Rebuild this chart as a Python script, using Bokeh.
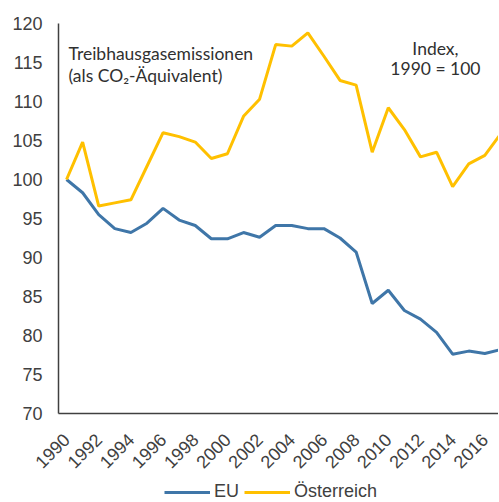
import math
from bokeh.plotting import figure
from bokeh.layouts import column
from bokeh.models import Range1d, FixedTicker, Label, Legend, LegendItem
from bokeh.embed import file_html
from bokeh.resources import INLINE

years = list(range(1990, 2018))
eu = [100, 98.3, 95.5, 93.7, 93.2, 94.4, 96.3, 94.8, 94.1, 92.4, 92.4, 93.2, 92.6, 94.1,
      94.1, 93.7, 93.7, 92.5, 90.7, 84.1, 85.8, 83.2, 82.1, 80.4, 77.6, 78.0, 77.7, 78.2]
at = [100, 104.8, 96.6, 97.0, 97.4, 101.7, 106.0, 105.5, 104.8, 102.7, 103.3, 108.1, 110.3, 117.3,
      117.1, 118.8, 115.8, 112.7, 112.1, 103.5, 109.2, 106.4, 102.9, 103.5, 99.1, 102.0, 103.1, 105.9]
x_ticks = list(range(1990, 2017, 2))
y_ticks = list(range(70, 121, 5))
series_names = ["EU", "Österreich"]
title_lines = ["Treibhausgasemissionen", "(als CO₂-Äquivalent)"]
index_lines = ["Index,", "1990 = 100"]

BLUE = "#3F76A8"
GOLD = "#FFC000"
TXT = "#404040"

p = figure(width=498, height=481, output_backend="svg", toolbar_location=None,
           x_range=Range1d(1989.5, 2016.85), y_range=Range1d(70, 120),
           min_border_left=58, min_border_right=0, min_border_top=23, min_border_bottom=68)
p.outline_line_color = None
p.xgrid.visible = False
p.ygrid.visible = False
p.background_fill_color = "white"
p.border_fill_color = "white"

r_eu = p.line(years, eu, line_color=BLUE, line_width=3)
r_at = p.line(years, at, line_color=GOLD, line_width=3)

for ax in (p.xaxis[0], p.yaxis[0]):
    ax.axis_line_color = "#404040"
    ax.axis_line_width = 1.5
    ax.major_tick_line_color = None
    ax.minor_tick_line_color = None
    ax.major_tick_out = 0
    ax.major_tick_in = 0
    ax.major_label_text_font = "Liberation Sans"
    ax.major_label_text_font_size = "18px"
    ax.major_label_text_color = TXT

p.yaxis[0].ticker = FixedTicker(ticks=y_ticks)
p.yaxis[0].major_label_standoff = 16
p.xaxis[0].ticker = FixedTicker(ticks=x_ticks)
p.xaxis[0].major_label_orientation = math.pi / 4
p.xaxis[0].major_label_standoff = 23

lab_kw = dict(text_font="Lato", text_font_size="17.5px", text_color="#303030",
              text_baseline="alphabetic")
p.add_layout(Label(x=1990.12, y=116.15, text=title_lines[0], text_align="left", **lab_kw))
p.add_layout(Label(x=1990.12, y=113.33, text=title_lines[1], text_align="left", **lab_kw))
p.add_layout(Label(x=2012.93, y=116.83, text=index_lines[0], text_align="center", **lab_kw))
p.add_layout(Label(x=2012.93, y=114.19, text=index_lines[1], text_align="center", **lab_kw))

# legend strip below the chart
lg = figure(width=498, height=20, output_backend="svg", toolbar_location=None,
            x_axis_type=None, y_axis_type=None,
            x_range=Range1d(0, 1), y_range=Range1d(0, 1),
            min_border_left=0, min_border_right=0, min_border_top=0, min_border_bottom=0)
lg.outline_line_color = None
lg.xgrid.visible = False
lg.ygrid.visible = False
l_eu = lg.line(years, eu, line_color=BLUE, line_width=3)
l_at = lg.line(years, at, line_color=GOLD, line_width=3)

legend = Legend(items=[LegendItem(label=series_names[0], renderers=[l_eu]),
                       LegendItem(label=series_names[1], renderers=[l_at])],
                orientation="horizontal", location=(106, -1),
                glyph_width=46, glyph_height=18, label_height=18,
                label_standoff=4, spacing=5, padding=0, margin=0,
                border_line_color=None, background_fill_alpha=0,
                label_text_font="Liberation Sans", label_text_font_size="18px",
                label_text_color=TXT)
lg.add_layout(legend, "center")

open("out.html", "w").write(file_html(column(p, lg, spacing=0), INLINE))
